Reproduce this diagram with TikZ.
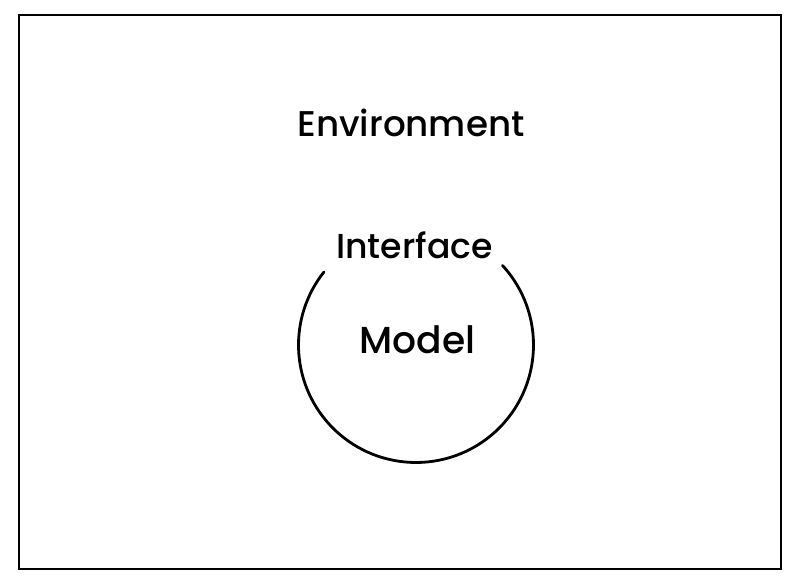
\documentclass[tikz,border=0pt]{standalone}
\usepackage{fontspec}
\setmainfont{Poppins}[UprightFont=* Medium]
\begin{document}
\begin{tikzpicture}[x=0.75pt,y=-0.75pt,
  lbl/.style={anchor=base,inner sep=0pt,font=\fontsize{26}{30}\selectfont},
  frame/.style={draw=black,line width=2.2pt},
  ring/.style={draw=black,line width=2.1pt,line cap=round}]
\useasboundingbox (0,0) rectangle (800,581);
\draw[frame] (19,15) rectangle (781,569);
\node[lbl,font=\fontsize{26.8}{30}\selectfont] (env) at (411,137) {Environment};
\node[lbl] (iface) at (414.5,258) {Interface};
\node[lbl,font=\fontsize{28.2}{32}\selectfont] (model) at (417.5,353) {Model};
\coordinate (c) at (416,345);
\draw[ring] ([shift={(-42.6:117.5)}]c) arc[start angle=-42.6,end angle=218.4,radius=117.5];
\end{tikzpicture}
\end{document}
